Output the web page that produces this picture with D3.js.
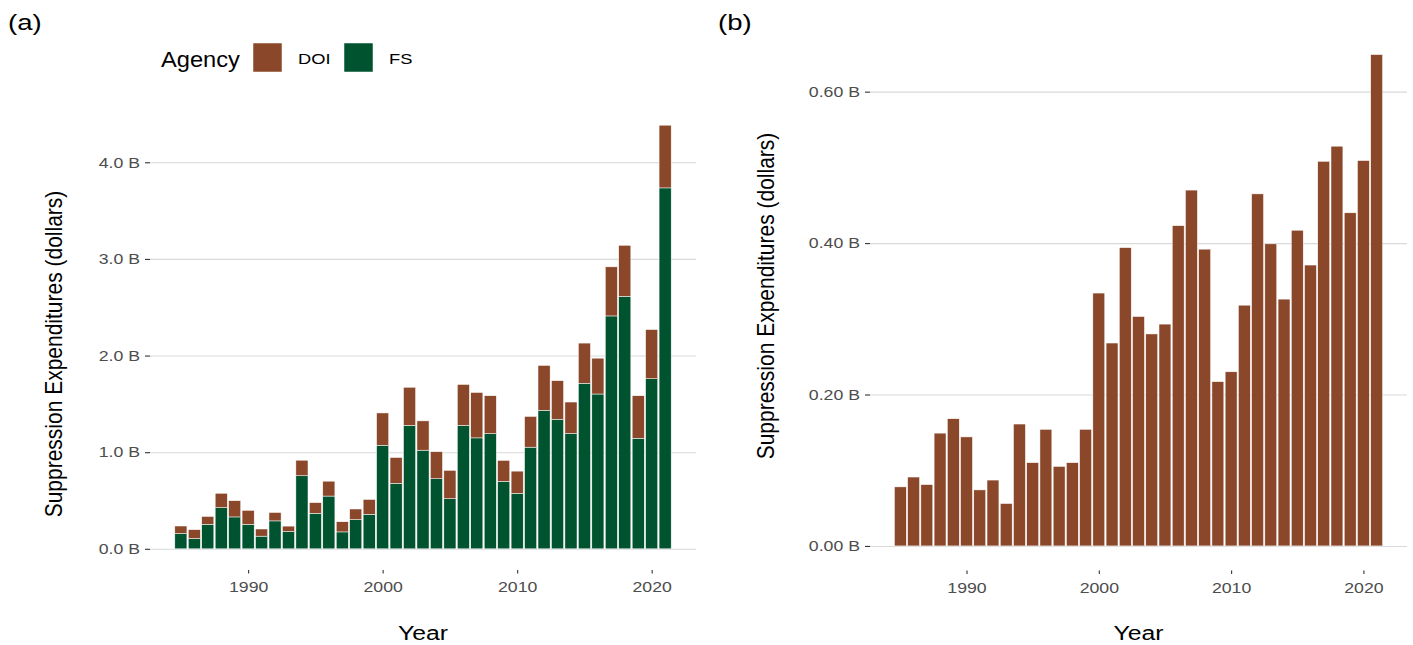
<!DOCTYPE html>
<html>
<head>
<meta charset="utf-8">
<script src="https://cdn.jsdelivr.net/npm/d3@7"></script>
<style>
  body { margin: 0; background: white; }
  svg { font-family: "Liberation Sans", Arial, sans-serif; }
</style>
</head>
<body>
<svg class="fig" width="1413" height="645"></svg>
<script>
// values, billions of dollars
var years = [1985, 1986, 1987, 1988, 1989, 1990, 1991, 1992, 1993, 1994,
             1995, 1996, 1997, 1998, 1999, 2000, 2001, 2002, 2003, 2004,
             2005, 2006, 2007, 2008, 2009, 2010, 2011, 2012, 2013, 2014,
             2015, 2016, 2017, 2018, 2019, 2020, 2021]

var fsValues = [0.158, 0.107, 0.254, 0.426, 0.330, 0.254, 0.131, 0.289, 0.179, 0.756,
                0.368, 0.546, 0.175, 0.302, 0.357, 1.072, 0.677, 1.278, 1.021, 0.725,
                0.519, 1.278, 1.148, 1.192, 0.698, 0.574, 1.052, 1.433, 1.341, 1.193,
                1.712, 1.602, 2.410, 2.613, 1.144, 1.760, 3.735]

var doiValues = [0.078, 0.091, 0.081, 0.149, 0.168, 0.144, 0.074, 0.087, 0.056, 0.161,
                 0.110, 0.154, 0.105, 0.110, 0.154, 0.334, 0.268, 0.394, 0.303, 0.280,
                 0.293, 0.423, 0.470, 0.392, 0.217, 0.230, 0.318, 0.465, 0.399, 0.326,
                 0.417, 0.371, 0.508, 0.528, 0.440, 0.509, 0.649]

var agencies = ["DOI", "FS"]
var ticksA = [0, 1, 2, 3, 4]
var ticksB = [0, 0.2, 0.4, 0.6]
var yearTicks = [1990, 2000, 2010, 2020]

var color = d3.scaleOrdinal().domain(agencies).range(["#8a4729", "#00532f"])

// the original image is a bit wider than tall, text looks stretched sideways
var SX = 1.18

var svg = d3.select(".fig")

function label(g, x, y, txt, size, anchor, sx) {
    return g.append("text")
      .attr("transform", "translate(" + x + "," + y + ") scale(" + (sx || SX) + ",1)")
      .attr("text-anchor", anchor || "start")
      .attr("font-size", size + "px")
      .text(txt)
}

// ggplot style: 5% expansion on both sides, bars 0.9 wide
function xScaleFor(left, right) {
    var lo = d3.min(years) - 0.45, hi = d3.max(years) + 0.45
    var pad = (hi - lo) * 0.05
    return d3.scaleLinear().domain([lo - pad, hi + pad]).range([left, right])
}

function yScaleFor(max, bottom, top) {
    return d3.scaleLinear().domain([-max * 0.05, max * 1.05]).range([bottom, top])
}

function drawAxes(g, x, y, yTicks, fmt, box) {
    g.append("g")
      .attr("class", "grid")
      .attr("transform", "translate(" + box.left + ",0)")
      .call(d3.axisLeft(y).tickValues(yTicks).tickSize(-(box.right - box.left)).tickFormat(""))
      .call(s => s.select(".domain").remove())
      .selectAll("line").attr("stroke", "#d9d9d9").attr("stroke-width", 1.1)

    var ya = g.append("g")
      .attr("class", "y axis")
      .attr("transform", "translate(" + box.left + ",0)")
      .call(d3.axisLeft(y).tickValues(yTicks).tickSize(5).tickPadding(5).tickFormat(fmt))
    ya.select(".domain").remove()
    ya.selectAll("line").attr("stroke", "#333").attr("stroke-width", 1.1)
    ya.selectAll("text")
      .attr("font-size", "15px").attr("fill", "#4d4d4d")
      .attr("x", -10 / SX)
      .attr("transform", "scale(" + SX + ",1)")

    var xa = g.append("g")
      .attr("class", "x axis")
      .attr("transform", "translate(0," + box.bottom + ")")
      .call(d3.axisBottom(x).tickValues(yearTicks).tickSize(3.5).tickPadding(8.3).tickFormat(d3.format("d")))
    xa.select(".domain").remove()
    xa.selectAll("line").attr("stroke", "#333").attr("stroke-width", 1.1)
    xa.selectAll("text")
      .attr("font-size", "15px").attr("fill", "#4d4d4d")
      .attr("transform", "scale(" + SX + ",1)")
}

function drawTitles(g, xMid, yTitleX, yTitleY, tag, tagX) {
    label(g, xMid, 639.5, "Year", 21, "middle")

    g.append("text")
      .attr("transform", "translate(" + yTitleX + "," + yTitleY + ") scale(" + SX + ",1) rotate(-90)")
      .attr("text-anchor", "middle")
      .attr("font-size", "21px")
      .text("Suppression Expenditures (dollars)")

    label(g, tagX, 30, tag, 22, "start", 1.25)
}

// ---- panel (a): stacked FS + DOI
var boxA = {left: 150, right: 696, top: 104, bottom: 570}
var stackData = years.map((yr, i) => ({year: yr, FS: fsValues[i], DOI: doiValues[i]}))
var series = d3.stack().keys(["FS", "DOI"])(stackData)

var xA = xScaleFor(boxA.left, boxA.right)
var yA = yScaleFor(d3.max(stackData, d => d.FS + d.DOI), boxA.bottom, boxA.top)
var gA = svg.append("g").attr("class", "panel-a")

drawAxes(gA, xA, yA, ticksA, d => d3.format(".1f")(d) + " B", boxA)

var barW = xA(0.9) - xA(0)

gA.append("g")
  .selectAll("g")
  .data(series)
  .enter()
  .append("g")
  .attr("fill", d => color(d.key))
  .selectAll("rect")
  .data(d => d)
  .enter().append("rect")
    .attr("x", d => xA(d.data.year) - barW / 2)
    .attr("y", d => yA(d[1]))
    .attr("width", barW)
    .attr("height", d => yA(d[0]) - yA(d[1]))
    .attr("stroke", "white")
    .attr("stroke-width", 0.5)

drawTitles(gA, (boxA.left + boxA.right) / 2, 62, 354, "(a)", 8)

// legend
var legend = gA.append("g").attr("class", "legend-a")
label(legend, 161, 67, "Agency", 21.5, "start", 1.1)

var keys = legend.selectAll(".key")
  .data(agencies)
  .enter().append("g")
  .attr("class", "key")
  .attr("transform", (d, i) => "translate(" + (253 + i * 91) + ",43)")

keys.append("rect")
  .attr("width", 29).attr("height", 29)
  .attr("fill", d => color(d))
  .attr("stroke", "white")
  .attr("stroke-width", 0.5)

keys.append("text")
  .attr("transform", "translate(45,21) scale(" + SX + ",1)")
  .attr("font-size", "15.5px")
  .text(d => d)

// ---- panel (b): DOI only
var boxB = {left: 870, right: 1407, top: 30, bottom: 570.5}
var xB = xScaleFor(boxB.left, boxB.right)
var yB = yScaleFor(d3.max(doiValues), boxB.bottom, boxB.top)
var gB = svg.append("g").attr("class", "panel-b")

drawAxes(gB, xB, yB, ticksB, d => d3.format(".2f")(d) + " B", boxB)

var barWB = xB(0.9) - xB(0)

gB.append("g")
  .selectAll("rect")
  .data(years)
  .enter().append("rect")
    .attr("x", d => xB(d) - barWB / 2)
    .attr("y", (d, i) => yB(doiValues[i]))
    .attr("width", barWB)
    .attr("height", (d, i) => yB(0) - yB(doiValues[i]))
    .attr("fill", color("DOI"))
    .attr("stroke", "white")
    .attr("stroke-width", 0.5)

drawTitles(gB, (boxB.left + boxB.right) / 2, 774, 296, "(b)", 718)
</script>
</body>
</html>
